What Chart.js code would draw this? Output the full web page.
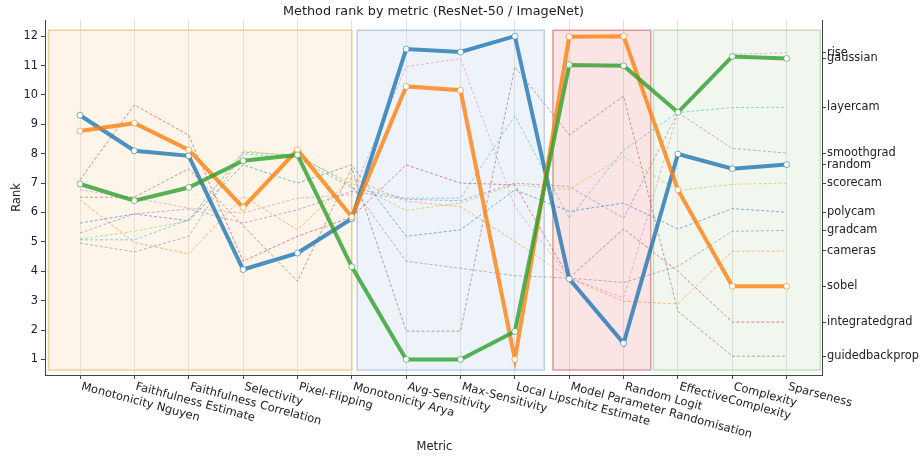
<!DOCTYPE html>
<html>
<head>
<meta charset="utf-8">
<script src="https://cdn.jsdelivr.net/npm/chart.js@4.4.0/dist/chart.umd.min.js"></script>
<style>
    html, body { margin: 0; padding: 0; background: #fff; }
</style>
</head>
<body>
<canvas id="rank-chart" width="923" height="460"></canvas>
<script>
// Method rank by metric (ResNet-50 / ImageNet)
const metrics = [
    'Monotonicity Nguyen', 'Faithfulness Estimate', 'Faithfulness Correlation', 'Selectivity',
    'Pixel-Flipping', 'Monotonicity Arya', 'Avg-Sensitivity', 'Max-Sensitivity',
    'Local Lipschitz Estimate', 'Model Parameter Randomisation', 'Random Logit',
    'EffectiveComplexity', 'Complexity', 'Sparseness'
];
const rankTicks = [1, 2, 3, 4, 5, 6, 7, 8, 9, 10, 11, 12];

// highlighted methods
const random = [9.31, 8.10, 7.93, 4.06, 4.62, 5.79, 11.56, 11.46, 12.0, 3.74, 1.55, 7.99, 7.49, 7.63];
const sobel = [8.77, 9.04, 8.13, 6.17, 8.13, 5.85, 10.29, 10.16, 1.0, 11.98, 12.0, 6.77, 3.49, 3.49];
const gaussian = [6.97, 6.40, 6.85, 7.76, 7.96, 4.15, 1.0, 1.0, 1.95, 11.02, 10.99, 9.41, 11.31, 11.24];

// the rest
const rise = [6.77, 6.49, 6.15, 5.98, 6.49, 6.60, 10.96, 11.24, 6.20, 3.77, 3.10, 9.40, 11.39, 11.43];
const layercam = [5.07, 5.07, 5.75, 8.00, 7.85, 6.83, 6.49, 6.49, 9.29, 5.81, 8.13, 9.40, 9.57, 9.58];
const smoothgrad = [5.30, 5.95, 6.12, 5.64, 6.09, 6.72, 6.45, 6.40, 7.00, 6.88, 5.81, 9.40, 8.18, 8.02];
const scorecam = [5.10, 5.36, 5.72, 8.10, 7.90, 7.00, 6.07, 6.32, 6.94, 6.79, 7.90, 6.75, 6.96, 7.00];
const polycam = [5.64, 5.95, 5.72, 7.62, 7.00, 7.62, 5.19, 5.41, 6.77, 6.04, 6.32, 5.44, 6.13, 6.01];
const gradcam = [4.96, 4.66, 5.19, 8.05, 7.95, 6.90, 4.34, 4.10, 3.85, 3.77, 3.62, 4.17, 5.36, 5.39];
const cameras = [6.43, 4.98, 4.59, 6.55, 5.41, 7.17, 6.38, 6.20, 5.02, 3.77, 2.98, 2.89, 4.68, 4.69];
const integratedgrad = [7.11, 9.66, 8.63, 4.34, 5.19, 5.85, 7.62, 7.00, 6.94, 3.77, 5.44, 4.00, 2.27, 2.27];
const guidedbackprop = [6.52, 6.52, 7.49, 5.55, 3.66, 7.51, 1.96, 1.96, 10.96, 8.64, 9.96, 2.64, 1.11, 1.11];

const highlighted = { random, sobel, gaussian };
const others = { rise, layercam, smoothgrad, scorecam, polycam, gradcam, cameras, integratedgrad, guidedbackprop };

// metric groups shaded behind the lines (x in metric index units, y in rank units)
const groupSpans = [[-0.58, 5.0], [5.1, 8.54], [8.7, 10.5], [10.55, 13.62]];
const groupRankSpan = [0.64, 12.2];

const colors = {
    random: '#1f77b4', sobel: '#ff7f0e', gaussian: '#2ca02c',
    rise: '#e377c2', layercam: '#17becf', smoothgrad: '#9467bd', scorecam: '#bcbd22',
    polycam: '#1f77b4', gradcam: '#7f7f7f', cameras: '#ff7f0e', integratedgrad: '#d62728',
    guidedbackprop: '#8c564b'
};
const groupStyles = [
    { fill: 'rgba(250,222,185,0.30)', edge: 'rgba(232,196,120,0.75)' },
    { fill: 'rgba(200,215,240,0.30)', edge: 'rgba(180,198,228,0.85)' },
    { fill: 'rgba(240,150,150,0.26)', edge: 'rgba(200,110,110,0.65)' },
    { fill: 'rgba(200,225,192,0.25)', edge: 'rgba(170,210,160,0.65)' }
];

function alpha(hex, a) {
    const n = parseInt(hex.slice(1), 16);
    return `rgba(${(n >> 16) & 255},${(n >> 8) & 255},${n & 255},${a})`;
}

function toPoints(arr) {
    return arr.map((v, i) => ({ x: i, y: v }));
}

const datasets = [];
// thick ones on top: green, orange, blue
['gaussian', 'sobel', 'random'].forEach((name, k) => {
    datasets.push({
        label: name,
        data: toPoints(highlighted[name]),
        borderColor: alpha(colors[name], 0.8),
        borderWidth: 4,
        pointRadius: 3,
        pointBackgroundColor: '#ffffff',
        pointBorderColor: alpha(colors[name], 0.6),
        pointBorderWidth: 1,
        order: k
    });
});
Object.keys(others).forEach(name => {
    datasets.push({
        label: name,
        data: toPoints(others[name]),
        borderColor: alpha(colors[name], 0.55),
        borderWidth: 1,
        borderDash: [3, 2],
        pointRadius: 0,
        order: 10
    });
});

// final rank of every method, used for the labels on the right
const allSeries = Object.assign({}, highlighted, others);
const endLabels = Object.keys(allSeries).map(name => ({
    name: name, value: allSeries[name][allSeries[name].length - 1]
}));

const groupBoxPlugin = {
    id: 'groupBoxes',
    beforeDatasetsDraw(chart) {
        const { ctx } = chart;
        const xs = chart.scales.x, ys = chart.scales.y;
        ctx.save();
        groupSpans.forEach((span, i) => {
            const x0 = xs.getPixelForValue(span[0]);
            const x1 = xs.getPixelForValue(span[1]);
            const y0 = ys.getPixelForValue(groupRankSpan[1]);
            const y1 = ys.getPixelForValue(groupRankSpan[0]);
            ctx.fillStyle = groupStyles[i].fill;
            ctx.fillRect(x0, y0, x1 - x0, y1 - y0);
            ctx.strokeStyle = groupStyles[i].edge;
            ctx.lineWidth = 1.5;
            ctx.strokeRect(x0, y0, x1 - x0, y1 - y0);
        });
        ctx.restore();
    }
};

const textPlugin = {
    id: 'texts',
    afterDraw(chart) {
        const { ctx, chartArea } = chart;
        const xs = chart.scales.x;
        ctx.save();
        ctx.fillStyle = '#222';
        ctx.font = '11.5px "DejaVu Sans"';
        ctx.textAlign = 'left';
        ctx.textBaseline = 'top';
        metrics.forEach((m, i) => {
            const px = xs.getPixelForValue(i);
            ctx.save();
            ctx.translate(px + 3, chartArea.bottom + 6);
            ctx.rotate(15 * Math.PI / 180);
            ctx.fillText(m, 0, 0);
            ctx.restore();
        });
        const midX = (chartArea.left + chartArea.right) / 2;
        ctx.textAlign = 'center';
        ctx.textBaseline = 'middle';
        ctx.font = '11.5px "DejaVu Sans"';
        ctx.fillText('Metric', midX + 1, 447);
        ctx.font = '12.8px "DejaVu Sans"';
        ctx.fillText('Method rank by metric (ResNet-50 / ImageNet)', midX, 12);
        ctx.font = '11.5px "DejaVu Sans"';
        ctx.save();
        ctx.translate(17, (chartArea.top + chartArea.bottom) / 2);
        ctx.rotate(-Math.PI / 2);
        ctx.fillText('Rank', 0, 0);
        ctx.restore();
        ctx.restore();
    }
};

Chart.defaults.font.family = '"DejaVu Sans", sans-serif';
Chart.defaults.font.size = 11.4;
Chart.defaults.color = '#222';

new Chart(document.getElementById('rank-chart').getContext('2d'), {
    type: 'line',
    data: { datasets },
    options: {
        responsive: false,
        animation: false,
        devicePixelRatio: 1,
        layout: { padding: { top: 20, left: 0, right: 0, bottom: 0 } },
        plugins: { legend: { display: false }, tooltip: { enabled: false } },
        elements: { line: { tension: 0 } },
        scales: {
            x: {
                type: 'linear',
                min: -0.644,
                max: 13.65,
                afterBuildTicks: s => { s.ticks = metrics.map((m, i) => ({ value: i })); },
                afterFit: s => { s.height = 85; },
                ticks: { display: false },
                grid: { color: 'rgba(0,0,0,0.12)', tickColor: '#444', tickLength: 4 },
                border: { color: '#444' }
            },
            y: {
                type: 'linear',
                position: 'left',
                min: 0.47,
                max: 12.55,
                afterBuildTicks: s => { s.ticks = rankTicks.map(v => ({ value: v })); },
                afterFit: s => { s.width = 45; },
                ticks: { padding: 3, color: '#222', font: { size: 11.4 } },
                grid: { drawOnChartArea: false, tickColor: '#444', tickLength: 4 },
                border: { color: '#444' }
            },
            yR: {
                type: 'linear',
                position: 'right',
                min: 0.47,
                max: 12.55,
                afterBuildTicks: s => { s.ticks = endLabels.map(l => ({ value: l.value })); },
                afterFit: s => { s.width = 101; },
                ticks: {
                    autoSkip: false,
                    padding: 1,
                    color: '#222',
                    font: { size: 11.4 },
                    callback: v => {
                        const hit = endLabels.find(l => l.value === v);
                        return hit ? hit.name : '';
                    }
                },
                grid: { drawOnChartArea: false, tickColor: '#444', tickLength: 4 },
                border: { color: '#444' }
            }
        }
    },
    plugins: [groupBoxPlugin, textPlugin]
});
</script>
</body>
</html>
